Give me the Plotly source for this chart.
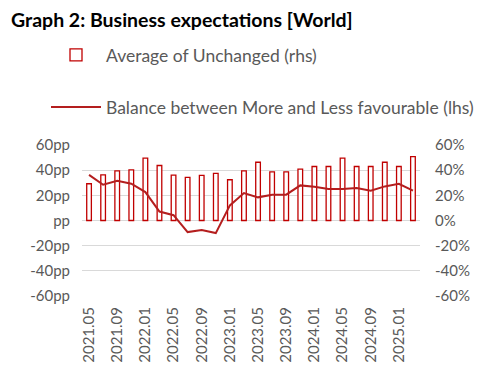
import plotly.graph_objects as go

categories = ["2021.05", "2021.07", "2021.09", "2021.11", "2022.01", "2022.03",
              "2022.05", "2022.07", "2022.09", "2022.11", "2023.01", "2023.03",
              "2023.05", "2023.07", "2023.09", "2023.11", "2024.01", "2024.03",
              "2024.05", "2024.07", "2024.09", "2024.11", "2025.01", "2025.03"]

unchanged = [29.2, 36.3, 39.5, 40.3, 49.5, 43.7, 36.0, 34.2, 35.8, 37.4, 32.4, 39.5,
             46.3, 38.7, 38.7, 40.8, 42.9, 42.9, 49.5, 42.9, 42.9, 46.3, 42.9, 50.8]

balance = [36.3, 28.4, 31.6, 29.2, 22.6, 7.1, 4.2, -9.2, -7.6, -10.0, 12.0, 21.8,
           18.4, 20.5, 20.5, 27.9, 26.8, 25.0, 25.0, 25.8, 23.7, 27.1, 29.2, 23.7]

x_tick_labels = ["2021.05", "2021.09", "2022.01", "2022.05", "2022.09", "2023.01",
                 "2023.05", "2023.09", "2024.01", "2024.05", "2024.09", "2025.01"]

y_vals = [-60, -40, -20, 0, 20, 40, 60]
left_labels = ["-60pp", "-40pp", "-20pp", "pp", "20pp", "40pp", "60pp"]
right_labels = ["-60%", "-40%", "-20%", "0%", "20%", "40%", "60%"]

RED_BAR = "#c00000"
RED_LINE = "#b41e1e"
FONT = "Lato"
TXT = "#595959"

# page body adds an 8px offset; layout coordinates below are in figure pixels
PL, PT, PR, PB = 74, 137, 412, 288
W, H = 500, 381

fig = go.Figure()
fig.add_trace(go.Bar(
    x=categories, y=unchanged, name="Average of Unchanged (rhs)",
    marker=dict(color="white", line=dict(color=RED_BAR, width=1.3)),
    width=0.33, yaxis="y", legend="legend",
))
fig.add_trace(go.Scatter(
    x=categories, y=balance, name="Balance between More and Less favourable (lhs)",
    mode="lines", line=dict(color=RED_LINE, width=2),
    yaxis="y2", legend="legend2",
))

fig.update_layout(
    width=W, height=H, autosize=False,
    margin=dict(l=PL, r=W - PR, t=PT, b=H - PB, autoexpand=False),
    plot_bgcolor="white", paper_bgcolor="white",
    font=dict(family=FONT, size=15, color=TXT),
    title=dict(text="<b>Graph 2: Business expectations [World]</b>",
               x=3 / W, xref="container", xanchor="left",
               y=1 - 5 / H, yref="container", yanchor="top",
               font=dict(family=FONT, size=19.5, color="black")),
    xaxis=dict(type="category", tickmode="array", tickvals=x_tick_labels,
               ticktext=x_tick_labels, tickangle=-90, showgrid=False,
               showline=False, ticks="", automargin=False,
               ticklabelstandoff=7, tickfont=dict(size=15, color=TXT)),
    yaxis=dict(range=[-60, 60], side="right", tickmode="array", tickvals=y_vals,
               ticktext=right_labels, showgrid=True, gridcolor="#d9d9d9",
               gridwidth=1, zeroline=True, zerolinecolor="#d9d9d9",
               zerolinewidth=1, showline=False, ticks="", automargin=False,
               ticklabelstandoff=14, tickfont=dict(size=15, color=TXT)),
    yaxis2=dict(range=[-60, 60], side="left", overlaying="y", anchor="x",
                tickmode="array", tickvals=y_vals, ticktext=left_labels,
                showgrid=False, zeroline=False, showline=False, ticks="",
                automargin=False, ticklabelstandoff=11,
                tickfont=dict(size=15, color=TXT)),
    legend=dict(x=(38 - PL) / (PR - PL), y=(PB - 47) / (PB - PT),
                xanchor="left", yanchor="middle", bgcolor="rgba(0,0,0,0)",
                itemwidth=50, font=dict(size=17.5, color=TXT)),
    legend2=dict(x=(38 - PL) / (PR - PL), y=(PB - 99) / (PB - PT),
                 xanchor="left", yanchor="middle", bgcolor="rgba(0,0,0,0)",
                 itemwidth=50, font=dict(size=17.5, color=TXT)),
    showlegend=True,
)

fig.write_html("out.html")
